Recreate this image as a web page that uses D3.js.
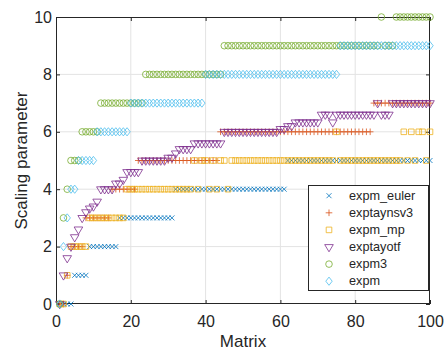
<!DOCTYPE html>
<html>
<head>
<meta charset="utf-8">
<script src="https://cdn.jsdelivr.net/npm/d3@7"></script>
<style>
  body { margin: 0; background: #fff; }
  svg { display: block; }
  text { font-family: "Liberation Sans", Arial, Helvetica, sans-serif; fill: #262626; }
</style>
</head>
<body>
<svg id="chart" width="444" height="353"></svg>
<script>
// Matrix index 1..100
const matrix = d3.range(1, 101);

// Scaling parameter chosen by each method, per test matrix
const expmEuler = [
  0,0,0,0,1,1,1,1,2,2,
  2,2,2,2,2,2,3,3,3,3,
  3,3,3,3,3,3,3,3,3,3,
  3,4,4,4,4,4,4,4,4,4,
  4,4,4,4,4,4,4,4,4,4,
  4,4,4,4,4,4,4,4,4,4,
  4,5,5,5,5,5,5,5,5,5,
  5,5,5,5,5,5,5,5,5,5,
  5,5,5,5,5,5,5,5,5,5,
  5,5,5,5,5,5,5,5,5,5
];
const exptaynsv3 = [
  0,0,1,2,2,2,2,3,3,3,
  3,3,3,3,4,4,4,4,4,4,
  4,5,5,5,5,5,5,5,5,5,
  5,5,5,5,5,5,5,5,5,5,
  5,5,5,6,6,6,6,6,6,6,
  6,6,6,6,6,6,6,6,6,6,
  6,6,6,6,6,6,6,6,6,6,
  6,6,6,6,6,6,6,6,6,6,
  6,6,6,6,7,7,7,7,7,7,
  7,7,7,7,7,7,7,7,7,7
];
const expmMp = [
  0,0,1,2,2,2,2,2,3,3,
  3,3,3,3,3,3,3,3,4,4,
  4,4,4,4,4,4,4,4,4,4,
  4,4,4,4,4,4,5,4,5,5,
  4,5,4,5,5,4,5,5,5,5,
  5,5,5,5,5,5,5,5,5,5,
  5,5,5,5,5,5,5,5,5,5,
  5,5,5,5,6,5,5,5,5,5,
  5,5,5,5,5,5,5,5,5,5,
  5,5,6,5,6,5,6,6,5,6
];
const exptayotf = [
  0,1,1.6,2,2.33,2.6,3,3.2,3.33,3.4,
  3.57,4,4,4,4,4.2,4.2,4.33,4.6,4.6,
  4.6,4.6,5,5,5,5,5,5,5,5.1,
  5.1,5.25,5.4,5.4,5.4,5.4,5.6,5.6,5.6,5.6,
  5.6,5.6,5.6,5.6,6,6,6,6,6,6,
  6,6,6,6,6,6,6,6,6,6.1,
  6.1,6.2,6.2,6.33,6.33,6.33,6.33,6.33,6.33,6.33,
  6.6,6.6,6.6,6.33,6.6,6.6,6.6,6.6,6.6,6.6,
  6.6,6.6,6.6,6.6,6.6,7,6.6,6.6,6.6,7,
  7,7,7,7,7,7,7,7,7,7
];
const expm3 = [
  0,3,4,5,5,5,6,6,6,6,
  6,7,7,7,7,7,7,7,7,7,
  7,7,7,8,8,8,8,8,8,8,
  8,8,8,8,8,8,8,8,8,8,
  8,8,8,8,9,9,9,9,9,9,
  9,9,9,9,9,9,9,9,9,9,
  9,9,9,9,9,9,9,9,9,9,
  9,9,9,9,9,9,9,9,9,9,
  9,9,9,9,9,9,10,9,9,9,
  10,10,10,10,10,10,10,10,10,10
];
const expm = [
  0,2,3,4,4,5,5,5,5,5,
  6,6,6,6,6,6,6,6,6,7,
  7,7,7,7,7,7,7,7,7,7,
  7,7,7,7,7,7,7,7,7,8,
  8,8,8,8,8,8,8,8,8,8,
  8,8,8,8,8,8,8,8,8,8,
  8,8,8,8,8,8,8,8,8,8,
  8,8,8,8,8,9,9,9,9,9,
  9,9,9,9,9,9,9,9,9,9,
  9,9,9,9,9,9,9,9,9,9
];

const seriesNames = ["expm_euler", "exptaynsv3", "expm_mp", "exptayotf", "expm3", "expm"];
const xTicks = [0, 20, 40, 60, 80, 100];
const yTicks = [0, 2, 4, 6, 8, 10];

const series = [
  { name: seriesNames[0], values: expmEuler,  color: "#0072BD", shape: "x" },
  { name: seriesNames[1], values: exptaynsv3, color: "#D95319", shape: "plus" },
  { name: seriesNames[2], values: expmMp,     color: "#EDB120", shape: "square" },
  { name: seriesNames[3], values: exptayotf,  color: "#7E2F8E", shape: "triangleDown" },
  { name: seriesNames[4], values: expm3,      color: "#77AC30", shape: "circle" },
  { name: seriesNames[5], values: expm,       color: "#4DBEEE", shape: "diamond" }
];

// Marker outlines, centred on (0,0)
const shapes = {
  x: () => { const s = 2.5; return `M${-s},${-s}L${s},${s}M${-s},${s}L${s},${-s}`; },
  plus: () => { const s = 3.3; return `M${-s},0L${s},0M0,${-s}L0,${s}`; },
  square: () => { const s = 2.8; return `M${-s},${-s}H${s}V${s}H${-s}Z`; },
  triangleDown: () => { const w = 4.3, t = 2.4, b = 4.8; return `M${-w},${-t}H${w}L0,${b}Z`; },
  circle: () => { const r = 3.3; return `M${r},0A${r},${r} 0 1,1 ${-r},0A${r},${r} 0 1,1 ${r},0Z`; },
  diamond: () => { const w = 3.2, h = 4.1; return `M0,${-h}L${w},0L0,${h}L${-w},0Z`; }
};

const svg = d3.select("#chart");
const plotLeft = 56, plotRight = 430, plotTop = 17, plotBottom = 304;
const x = d3.scaleLinear().domain([0, 100]).range([plotLeft, plotRight]);
const y = d3.scaleLinear().domain([0, 10]).range([plotBottom, plotTop]);

// Grid lines
const grid = svg.append("g").attr("stroke", "#e3e3e3").attr("stroke-width", 1);
grid.selectAll("line.gx").data(xTicks.slice(1, -1)).join("line")
  .attr("class", "gx")
  .attr("x1", d => x(d)).attr("x2", d => x(d))
  .attr("y1", plotTop).attr("y2", plotBottom);
grid.selectAll("line.gy").data(yTicks.slice(1, -1)).join("line")
  .attr("class", "gy")
  .attr("x1", plotLeft).attr("x2", plotRight)
  .attr("y1", d => y(d)).attr("y2", d => y(d));

// Axes with inward ticks on all four sides
const styleAxis = g => {
  g.select(".domain").remove();
  g.selectAll(".tick line").attr("stroke", "#262626");
  g.selectAll(".tick text").attr("fill", "#262626")
    .style("font-family", '"Liberation Sans", Arial, Helvetica, sans-serif');
};
svg.append("g").attr("transform", `translate(0,${plotBottom})`)
  .call(d3.axisBottom(x).tickValues(xTicks).tickSize(-4).tickPadding(11.5))
  .call(styleAxis)
  .selectAll("text").style("font-size", "16px");
svg.append("g").attr("transform", `translate(0,${plotTop})`)
  .call(d3.axisTop(x).tickValues(xTicks).tickSize(-4).tickFormat(""))
  .call(styleAxis);
svg.append("g").attr("transform", `translate(${plotLeft},0)`)
  .call(d3.axisLeft(y).tickValues(yTicks).tickSize(-4).tickPadding(4))
  .call(styleAxis)
  .selectAll("text").style("font-size", "16px");
svg.append("g").attr("transform", `translate(${plotRight},0)`)
  .call(d3.axisRight(y).tickValues(yTicks).tickSize(-4).tickFormat(""))
  .call(styleAxis);

// Axes box
svg.append("rect")
  .attr("x", plotLeft + 0.5).attr("y", plotTop + 0.5)
  .attr("width", plotRight - plotLeft - 1).attr("height", plotBottom - plotTop - 1)
  .attr("fill", "none").attr("stroke", "#262626").attr("stroke-width", 1);

// Data markers
series.forEach(s => {
  svg.append("g")
    .attr("fill", "none").attr("stroke", s.color).attr("stroke-width", 0.8)
    .selectAll("path").data(s.values).join("path")
    .attr("transform", (d, i) => `translate(${x(matrix[i])},${y(d)})`)
    .attr("d", shapes[s.shape]);
});

// Axis labels
svg.append("text")
  .attr("x", (plotLeft + plotRight) / 2).attr("y", 347)
  .attr("text-anchor", "middle").style("font-size", "17px")
  .text("Matrix");
svg.append("text")
  .attr("transform", `translate(26.5,${(plotTop + plotBottom) / 2}) rotate(-90)`)
  .attr("text-anchor", "middle").style("font-size", "17px")
  .text("Scaling parameter");

// Legend
const legend = svg.append("g");
legend.append("rect")
  .attr("x", 308.5).attr("y", 185.5).attr("width", 120).attr("height", 105)
  .attr("fill", "#fff").attr("stroke", "#262626").attr("stroke-width", 1);
const rows = legend.selectAll("g.row").data(series).join("g")
  .attr("class", "row")
  .attr("transform", (d, i) => `translate(329,${195.7 + i * 17.1})`);
rows.append("path")
  .attr("d", d => shapes[d.shape]())
  .attr("fill", "none").attr("stroke", d => d.color).attr("stroke-width", 0.8);
rows.append("text")
  .attr("x", 20).attr("dy", "0.3em")
  .style("font-size", "12.7px")
  .text(d => d.name);
</script>
</body>
</html>
